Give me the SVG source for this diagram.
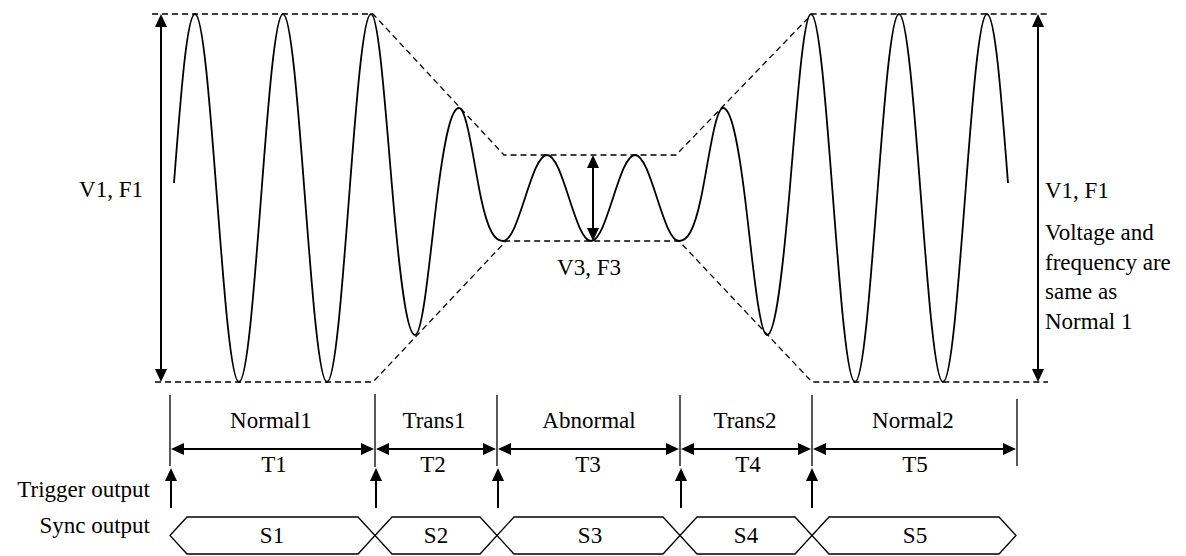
<svg xmlns="http://www.w3.org/2000/svg" width="1186" height="556" viewBox="0 0 1186 556">
<style>
text{font-family:"Liberation Serif","Times New Roman",serif;font-size:23px;fill:#000}
.mid{text-anchor:middle}
.end{text-anchor:end}
.wave{fill:none;stroke:#000;stroke-width:1.8}
.dash{fill:none;stroke:#000;stroke-width:1.3;stroke-dasharray:6,4}
.arr{fill:none;stroke:#000;stroke-width:2;marker-start:url(#ah);marker-end:url(#ah)}
.up{fill:none;stroke:#000;stroke-width:2;marker-end:url(#ah)}
.tick{fill:none;stroke:#000;stroke-width:1.3}
.hex{fill:#fff;fill-opacity:0;stroke:#000;stroke-width:1.3}
</style>
<defs>
<marker id="ah" markerUnits="userSpaceOnUse" markerWidth="13" markerHeight="12" refX="11" refY="6" orient="auto-start-reverse" overflow="visible">
<path d="M0,0 L13,6 L0,12 z" fill="#000"/>
</marker>
</defs>
<g id="envelope">
<polyline class="dash" points="152,14 373,14 504,155 676,155 812,14 1048,14"/>
<polyline class="dash" points="155,382 373,382 506,241 679,241 812,382 1048,382"/>
</g>
<g id="waveform">
<path class="wave" d="M174,183 C180.9,93 187,14 195,14 C202.96,14 209.83,103.74 217,198 C224.17,292.26 231.04,382 239,382 C246.96,382 253.83,292.26 261,198 C268.17,103.74 275.04,14 283,14 C290.96,14 297.83,103.74 305,198 C312.17,292.26 319.04,382 327,382 C334.96,382 341.83,292.26 349,198 C356.17,103.74 363.04,14 371,14 C378.96,14 385.83,115.78 393,198 C400.17,280.22 407.04,335 415,335 C422.96,335 429.83,256.15 437,198 C444.17,139.85 451.04,108 459,108 C466.96,108 473.83,163.930 481,198 C488.17,232.07 495.04,241 503,241 C510.96,241 517.83,220.03 525,198 C532.17,175.97 539.04,155 547,155 C554.96,155 561.83,175.97 569,198 C576.17,220.03 583.04,241 591,241 C598.96,241 605.83,220.03 613,198 C620.17,175.97 627.04,155 635,155 C642.96,155 649.83,175.97 657,198 C664.17,220.03 671.04,241 679,241 C686.96,241 693.83,232.07 701,198 C708.17,163.93 715.04,108 723,108 C730.96,108 737.83,139.85 745,198 C752.17,256.15 759.04,335 767,335 C774.96,335 781.83,280.22 789,198 C796.17,115.78 803.04,14 811,14 C818.96,14 825.83,103.74 833,198 C840.17,292.26 847.04,382 855,382 C862.96,382 869.83,292.26 877,198 C884.17,103.74 891.04,14 899,14 C906.96,14 913.83,103.74 921,198 C928.17,292.26 935.04,382 943,382 C950.96,382 957.83,292.26 965,198 C972.17,103.74 979.04,14 987,14 C994.96,14 1001.1,93 1008,183"/>
</g>
<g id="labels">
<text class="end" x="143" y="197">V1, F1</text>
<text x="1045" y="198">V1, F1</text>
<text x="1045" y="240">Voltage and</text>
<text x="1045" y="269.5">frequency are</text>
<text x="1045" y="299">same as</text>
<text x="1045" y="328.5">Normal 1</text>
<text class="mid" x="589" y="275">V3, F3</text>
</g>
<g id="ticks">
<line class="tick" x1="170" y1="395" x2="170" y2="466"/>
<line class="tick" x1="375" y1="394" x2="375" y2="467"/>
<line class="tick" x1="497" y1="395" x2="497" y2="466"/>
<line class="tick" x1="680" y1="395" x2="680" y2="466"/>
<line class="tick" x1="812" y1="395" x2="812" y2="466"/>
<line class="tick" x1="1017" y1="399" x2="1017" y2="466"/>
</g>
<g id="connectors">
<line class="arr" x1="161" y1="16" x2="161" y2="380"/>
<line class="arr" x1="1038" y1="16" x2="1038" y2="380"/>
<line class="arr" x1="593" y1="157" x2="593" y2="239"/>
<line class="arr" x1="173" y1="449" x2="372" y2="449"/>
<line class="arr" x1="378" y1="449" x2="494" y2="449"/>
<line class="arr" x1="500" y1="449" x2="677" y2="449"/>
<line class="arr" x1="683" y1="449" x2="809" y2="449"/>
<line class="arr" x1="815" y1="449" x2="1014" y2="449"/>
<line class="up" x1="171" y1="508" x2="171" y2="470"/>
<line class="up" x1="376" y1="508" x2="376" y2="470"/>
<line class="up" x1="498" y1="508" x2="498" y2="470"/>
<line class="up" x1="681" y1="508" x2="681" y2="470"/>
<line class="up" x1="812" y1="508" x2="812" y2="470"/>
</g>
<g id="sections">
<text class="mid" x="271" y="428">Normal1</text>
<text class="mid" x="434" y="428">Trans1</text>
<text class="mid" x="589" y="428">Abnormal</text>
<text class="mid" x="745" y="428">Trans2</text>
<text class="mid" x="913" y="428">Normal2</text>
<text class="mid" x="274" y="472">T1</text>
<text class="mid" x="433" y="472">T2</text>
<text class="mid" x="588" y="472">T3</text>
<text class="mid" x="748" y="472">T4</text>
<text class="mid" x="915" y="472">T5</text>
</g>
<g id="trigger">
<text class="end" x="150" y="497">Trigger output</text>
</g>
<g id="sync">
<text class="end" x="150" y="533">Sync output</text>
<polygon class="hex" points="170,535.5 187,517 358,517 375,535.5 358,554 187,554"/>
<polygon class="hex" points="375,535.5 392,517 480,517 497,535.5 480,554 392,554"/>
<polygon class="hex" points="497,535.5 514,517 663,517 680,535.5 663,554 514,554"/>
<polygon class="hex" points="680,535.5 697,517 795,517 812,535.5 795,554 697,554"/>
<polygon class="hex" points="812,535.5 829,517 999,517 1016,535.5 999,554 829,554"/>
<text class="mid" x="272" y="543">S1</text>
<text class="mid" x="436" y="543">S2</text>
<text class="mid" x="590" y="543">S3</text>
<text class="mid" x="746" y="543">S4</text>
<text class="mid" x="915" y="543">S5</text>
</g>
</svg>
